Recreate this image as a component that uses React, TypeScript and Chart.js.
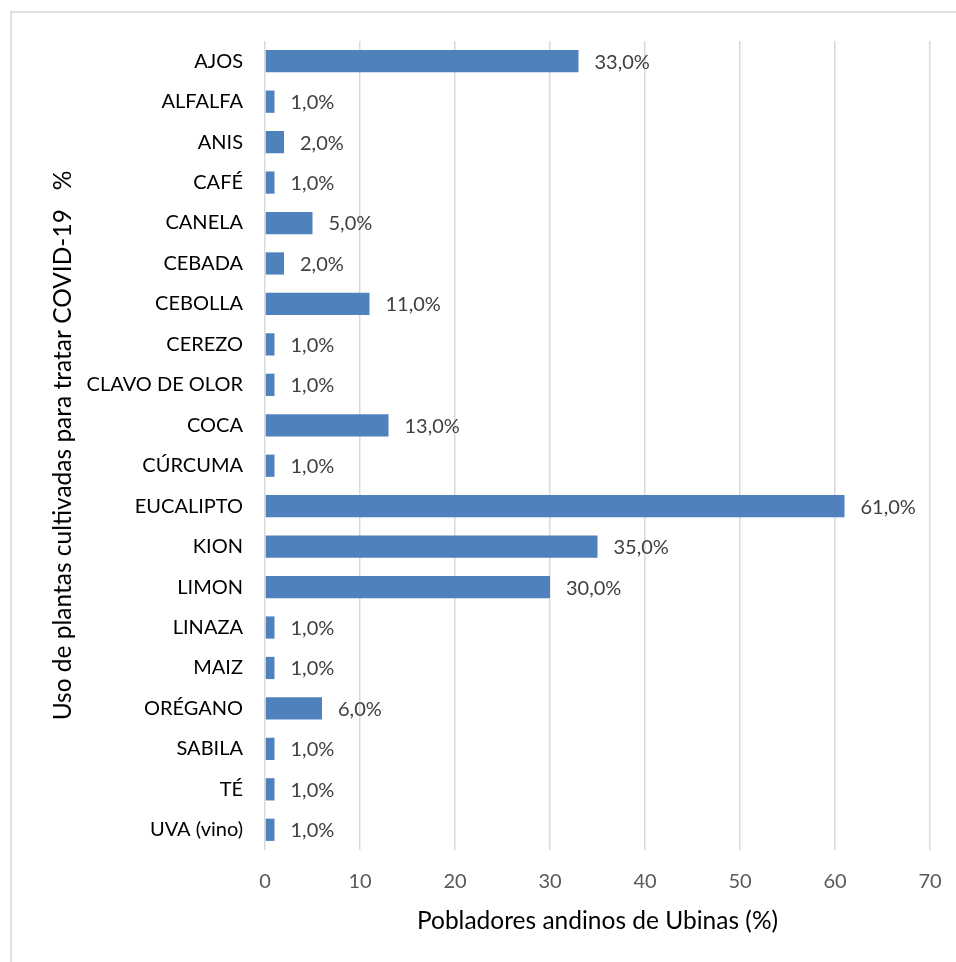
import React, { useEffect, useRef } from "react";
import { Chart, registerables } from "chart.js";

Chart.register(...registerables);

const categories = [
  "AJOS", "ALFALFA", "ANIS", "CAFÉ", "CANELA", "CEBADA", "CEBOLLA", "CEREZO",
  "CLAVO DE OLOR", "COCA", "CÚRCUMA", "EUCALIPTO", "KION", "LIMON", "LINAZA",
  "MAIZ", "ORÉGANO", "SABILA", "TÉ", "UVA (vino)",
];
const values = [33, 1, 2, 1, 5, 2, 11, 1, 1, 13, 1, 61, 35, 30, 1, 1, 6, 1, 1, 1];
const xTitle = "Pobladores andinos de Ubinas (%)";
const yTitle = "Uso de plantas cultivadas para tratar COVID-19   %";

const FONT = "Lato, 'Open Sans', sans-serif";
const BAR = "#4f81bd";
const GRID = "#d9d9d9";

const formatPct = (v: number) => v.toFixed(1).replace(".", ",") + "%";

// Writes the percentage just past the end of every bar.
const valueLabels = {
  id: "valueLabels",
  afterDatasetsDraw(chart: any) {
    const { ctx } = chart;
    const meta = chart.getDatasetMeta(0);
    ctx.save();
    ctx.font = `20px ${FONT}`;
    ctx.fillStyle = "#404040";
    ctx.textAlign = "left";
    ctx.textBaseline = "middle";
    meta.data.forEach((bar: any, i: number) => {
      const v = chart.data.datasets[0].data[i] as number;
      ctx.fillText(formatPct(v), bar.x + 16, bar.y + 1);
    });
    ctx.restore();
  },
};

export default function App() {
  const canvasRef = useRef<HTMLCanvasElement | null>(null);

  useEffect(() => {
    if (!canvasRef.current) return;
    const chart = new Chart(canvasRef.current, {
      type: "bar",
      data: {
        labels: categories,
        datasets: [
          {
            data: values,
            backgroundColor: BAR,
            borderWidth: 0,
            barPercentage: 0.55,
            categoryPercentage: 1,
          },
        ],
      },
      options: {
        indexAxis: "y",
        responsive: false,
        animation: false,
        layout: { padding: { top: 41, right: 26, left: 0, bottom: 0 } },
        plugins: {
          legend: { display: false },
          tooltip: { enabled: false },
        },
        scales: {
          x: {
            min: 0,
            max: 70,
            ticks: {
              stepSize: 10,
              padding: 20,
              color: "#595959",
              font: { family: FONT, size: 20 },
            },
            grid: { color: GRID, lineWidth: 1.5, drawTicks: false },
            border: { display: false },
            title: {
              display: true,
              text: xTitle,
              color: "#000000",
              font: { family: FONT, size: 24.5 },
              padding: { top: 0, bottom: 26 },
            },
            afterFit(scale: any) {
              scale.height = 112;
              scale.paddingLeft = 0;
              scale.paddingRight = 0;
            },
          },
          y: {
            ticks: {
              padding: 22,
              color: "#000000",
              font: { family: FONT, size: 20 },
              autoSkip: false,
            },
            grid: { display: false, drawTicks: false },
            border: { display: false },
            title: {
              display: true,
              text: yTitle,
              color: "#000000",
              font: { family: FONT, size: 24.5 },
              padding: { top: 48, bottom: 0 },
            },
            afterFit(scale: any) {
              scale.width = 265;
              scale.paddingTop = 0;
              scale.paddingBottom = 0;
            },
          },
        },
      },
      plugins: [valueLabels],
    } as any);
    return () => chart.destroy();
  }, []);

  return (
    <div
      style={{
        position: "fixed",
        left: 0,
        top: 0,
        width: 956,
        height: 962,
        background: "#ffffff",
        overflow: "hidden",
      }}
    >
      <div
        style={{
          position: "absolute",
          left: 10,
          top: 11,
          width: 980,
          height: 990,
          borderTop: "2px solid #e0e0e0",
          borderLeft: "2px solid #e0e0e0",
        }}
      />
      <canvas
        ref={canvasRef}
        width={956}
        height={962}
        style={{ position: "absolute", left: 0, top: 0, width: 956, height: 962 }}
      />
    </div>
  );
}
